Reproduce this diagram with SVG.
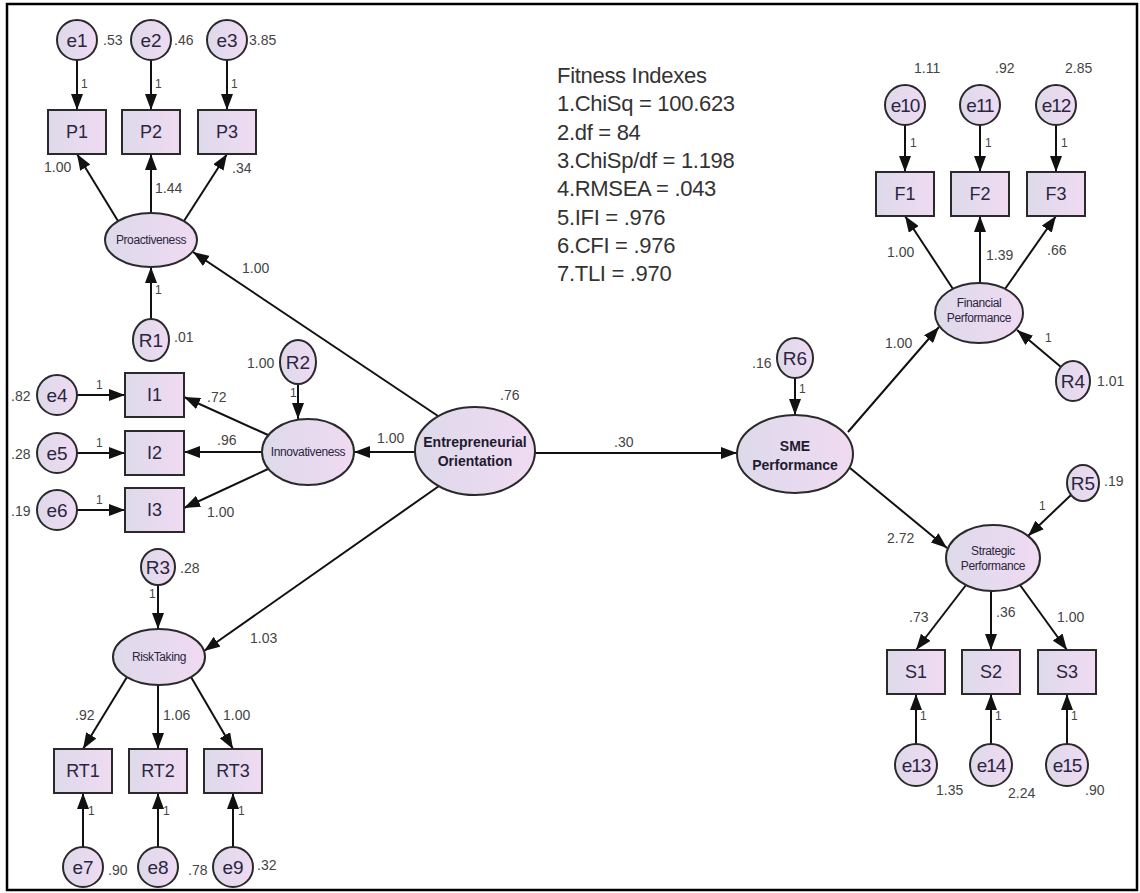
<svg xmlns="http://www.w3.org/2000/svg" width="1140" height="893" viewBox="0 0 1140 893">
<style>
.sh{fill:url(#g);stroke:#2a2a2a;stroke-width:2}
.ln{stroke:#111;stroke-width:2;fill:none;marker-end:url(#ah)}
.nt{font-family:"Liberation Sans",Arial,sans-serif;font-size:19px;fill:#2b2540;text-anchor:middle}
.bt{font-family:"Liberation Sans",Arial,sans-serif;font-size:18px;fill:#2b2540;text-anchor:middle}
.st{font-family:"Liberation Sans",Arial,sans-serif;font-size:12px;fill:#2b2540;text-anchor:middle;letter-spacing:-0.4px}
.bd{font-family:"Liberation Sans",Arial,sans-serif;font-size:14px;font-weight:bold;fill:#1e1a30;text-anchor:middle}
.lb{font-family:"Liberation Sans",Arial,sans-serif;font-size:14px;fill:#444}
.one{font-family:"Liberation Sans",Arial,sans-serif;font-size:12px;fill:#444}
.fit{font-family:"Liberation Sans",Arial,sans-serif;font-size:22px;fill:#333;letter-spacing:-0.3px}
</style>
<defs>
<linearGradient id="g" x1="0" y1="0" x2="1" y2="0">
<stop offset="0" stop-color="#dddaea"/>
<stop offset="1" stop-color="#f0daf2"/>
</linearGradient>
<marker id="ah" markerUnits="userSpaceOnUse" markerWidth="16" markerHeight="12" refX="16" refY="6" orient="auto">
<path d="M0,0 L16,6 L0,12 z" fill="#111"/>
</marker>
</defs>
<rect x="0" y="0" width="1140" height="893" fill="#fff"/>
<rect x="7" y="4" width="1130" height="886" fill="none" stroke="#000" stroke-width="2.5"/>

<g id="connectors">
<line class="ln" x1="77" y1="60" x2="77" y2="110"/>
<line class="ln" x1="151" y1="60" x2="151" y2="110"/>
<line class="ln" x1="227" y1="60" x2="227" y2="110"/>
<line class="ln" x1="118" y1="221" x2="77" y2="154"/>
<line class="ln" x1="151" y1="213" x2="151" y2="154"/>
<line class="ln" x1="184" y1="221" x2="227" y2="154"/>
<line class="ln" x1="151" y1="319" x2="151" y2="267"/>
<line class="ln" x1="438" y1="416" x2="193" y2="252"/>
<line class="ln" x1="77" y1="395" x2="125" y2="395"/>
<line class="ln" x1="77" y1="453" x2="125" y2="453"/>
<line class="ln" x1="77" y1="510" x2="125" y2="510"/>
<line class="ln" x1="268" y1="435" x2="184" y2="397"/>
<line class="ln" x1="262" y1="452" x2="184" y2="452"/>
<line class="ln" x1="268" y1="469" x2="184" y2="508"/>
<line class="ln" x1="298" y1="384" x2="298" y2="419"/>
<line class="ln" x1="415" y1="452" x2="354" y2="452"/>
<line class="ln" x1="439" y1="486" x2="204" y2="651"/>
<line class="ln" x1="158" y1="585" x2="158" y2="629"/>
<line class="ln" x1="127" y1="677" x2="83" y2="749"/>
<line class="ln" x1="158" y1="685" x2="158" y2="749"/>
<line class="ln" x1="191" y1="677" x2="233" y2="749"/>
<line class="ln" x1="83" y1="847" x2="83" y2="793"/>
<line class="ln" x1="158" y1="847" x2="158" y2="793"/>
<line class="ln" x1="233" y1="847" x2="233" y2="793"/>
<line class="ln" x1="535" y1="453" x2="737" y2="453"/>
<line class="ln" x1="795" y1="378" x2="795" y2="415"/>
<line class="ln" x1="848" y1="432" x2="939" y2="327"/>
<line class="ln" x1="850" y1="468" x2="947" y2="548"/>
<line class="ln" x1="905" y1="125" x2="905" y2="172"/>
<line class="ln" x1="980" y1="125" x2="980" y2="172"/>
<line class="ln" x1="1056" y1="125" x2="1056" y2="172"/>
<line class="ln" x1="953" y1="289" x2="905" y2="216"/>
<line class="ln" x1="980" y1="283" x2="980" y2="216"/>
<line class="ln" x1="1005" y1="289" x2="1056" y2="216"/>
<line class="ln" x1="1061" y1="367" x2="1017" y2="330"/>
<line class="ln" x1="1071" y1="495" x2="1028" y2="536"/>
<line class="ln" x1="966" y1="585" x2="916" y2="650"/>
<line class="ln" x1="991" y1="591" x2="991" y2="650"/>
<line class="ln" x1="1020" y1="585" x2="1067" y2="650"/>
<line class="ln" x1="916" y1="744" x2="916" y2="694"/>
<line class="ln" x1="991" y1="744" x2="991" y2="694"/>
<line class="ln" x1="1067" y1="744" x2="1067" y2="694"/>
</g>

<g id="labels">
<text class="lb" x="103" y="45">.53</text>
<text class="lb" x="174" y="45">.46</text>
<text class="lb" x="249" y="45">3.85</text>
<text class="one" x="81" y="88">1</text>
<text class="one" x="155" y="88">1</text>
<text class="one" x="231" y="88">1</text>
<text class="lb" x="44" y="172">1.00</text>
<text class="lb" x="155" y="193">1.44</text>
<text class="lb" x="232" y="173">.34</text>
<text class="one" x="155" y="294">1</text>
<text class="lb" x="174" y="342">.01</text>
<text class="lb" x="242" y="273">1.00</text>
<text class="lb" x="11" y="401">.82</text>
<text class="lb" x="11" y="459">.28</text>
<text class="lb" x="11" y="516">.19</text>
<text class="one" x="96" y="389">1</text>
<text class="one" x="96" y="447">1</text>
<text class="one" x="96" y="504">1</text>
<text class="lb" x="207" y="402">.72</text>
<text class="lb" x="217" y="445">.96</text>
<text class="lb" x="207" y="517">1.00</text>
<text class="lb" x="247" y="368">1.00</text>
<text class="one" x="290" y="397">1</text>
<text class="lb" x="500" y="400">.76</text>
<text class="lb" x="377" y="443">1.00</text>
<text class="lb" x="614" y="447">.30</text>
<text class="lb" x="180" y="573">.28</text>
<text class="one" x="149" y="598">1</text>
<text class="lb" x="250" y="643">1.03</text>
<text class="lb" x="75" y="720">.92</text>
<text class="lb" x="163" y="720">1.06</text>
<text class="lb" x="223" y="720">1.00</text>
<text class="one" x="88" y="815">1</text>
<text class="one" x="163" y="815">1</text>
<text class="one" x="238" y="815">1</text>
<text class="lb" x="108" y="875">.90</text>
<text class="lb" x="188" y="875">.78</text>
<text class="lb" x="257" y="870">.32</text>
<text class="lb" x="752" y="368">.16</text>
<text class="one" x="799" y="393">1</text>
<text class="lb" x="885" y="348">1.00</text>
<text class="lb" x="887" y="543">2.72</text>
<text class="lb" x="914" y="73">1.11</text>
<text class="lb" x="995" y="73">.92</text>
<text class="lb" x="1065" y="73">2.85</text>
<text class="one" x="910" y="147">1</text>
<text class="one" x="985" y="147">1</text>
<text class="one" x="1061" y="147">1</text>
<text class="lb" x="887" y="257">1.00</text>
<text class="lb" x="986" y="260">1.39</text>
<text class="lb" x="1047" y="255">.66</text>
<text class="one" x="1045" y="342">1</text>
<text class="lb" x="1097" y="386">1.01</text>
<text class="lb" x="1104" y="486">.19</text>
<text class="one" x="1039" y="510">1</text>
<text class="lb" x="909" y="622">.73</text>
<text class="lb" x="996" y="617">.36</text>
<text class="lb" x="1057" y="622">1.00</text>
<text class="one" x="920" y="720">1</text>
<text class="one" x="995" y="720">1</text>
<text class="one" x="1071" y="720">1</text>
<text class="lb" x="936" y="795">1.35</text>
<text class="lb" x="1008" y="798">2.24</text>
<text class="lb" x="1085" y="795">.90</text>
</g>

<g id="fitness">
<text class="fit" x="557" y="83">Fitness Indexes</text>
<text class="fit" x="557" y="111">1.ChiSq = 100.623</text>
<text class="fit" x="557" y="140">2.df = 84</text>
<text class="fit" x="557" y="168">3.ChiSp/df = 1.198</text>
<text class="fit" x="557" y="196">4.RMSEA = .043</text>
<text class="fit" x="557" y="225">5.IFI = .976</text>
<text class="fit" x="557" y="253">6.CFI = .976</text>
<text class="fit" x="557" y="281">7.TLI = .970</text>
</g>

<g id="e1"><circle class="sh" cx="77" cy="40" r="20"/><text class="nt" x="77" y="47">e1</text></g>
<g id="e2"><circle class="sh" cx="151" cy="40" r="20"/><text class="nt" x="151" y="47">e2</text></g>
<g id="e3"><circle class="sh" cx="227" cy="40" r="20"/><text class="nt" x="227" y="47">e3</text></g>
<g id="P1"><rect class="sh" x="48" y="110" width="58" height="44"/><text class="bt" x="77" y="138">P1</text></g>
<g id="P2"><rect class="sh" x="122" y="110" width="58" height="44"/><text class="bt" x="151" y="138">P2</text></g>
<g id="P3"><rect class="sh" x="198" y="110" width="58" height="44"/><text class="bt" x="227" y="138">P3</text></g>
<g id="Proactiveness"><ellipse class="sh" cx="151" cy="240" rx="46" ry="27"/><text class="st" x="151" y="244">Proactiveness</text></g>
<g id="R1"><ellipse class="sh" cx="151" cy="340" rx="18" ry="21"/><text class="nt" x="151" y="347">R1</text></g>

<g id="e4"><circle class="sh" cx="57" cy="395" r="20"/><text class="nt" x="57" y="402">e4</text></g>
<g id="e5"><circle class="sh" cx="57" cy="453" r="20"/><text class="nt" x="57" y="460">e5</text></g>
<g id="e6"><circle class="sh" cx="57" cy="510" r="20"/><text class="nt" x="57" y="517">e6</text></g>
<g id="I1"><rect class="sh" x="125" y="373" width="59" height="44"/><text class="bt" x="154.5" y="401">I1</text></g>
<g id="I2"><rect class="sh" x="125" y="431" width="59" height="44"/><text class="bt" x="154.5" y="459">I2</text></g>
<g id="I3"><rect class="sh" x="125" y="488" width="59" height="44"/><text class="bt" x="154.5" y="516">I3</text></g>
<g id="Innovativeness"><ellipse class="sh" cx="308" cy="452" rx="46" ry="33"/><text class="st" x="308" y="456">Innovativeness</text></g>
<g id="R2"><ellipse class="sh" cx="298" cy="362" rx="18" ry="22"/><text class="nt" x="298" y="369">R2</text></g>

<g id="EO"><ellipse class="sh" cx="475" cy="451" rx="60" ry="44"/><text class="bd" x="475" y="447">Entrepreneurial</text><text class="bd" x="475" y="466">Orientation</text></g>

<g id="R3"><ellipse class="sh" cx="158" cy="567" rx="17" ry="18"/><text class="nt" x="158" y="574">R3</text></g>
<g id="RiskTaking"><ellipse class="sh" cx="159" cy="657" rx="46" ry="28"/><text class="st" x="159" y="661">RiskTaking</text></g>
<g id="RT1"><rect class="sh" x="54" y="749" width="58" height="44"/><text class="bt" x="83" y="777">RT1</text></g>
<g id="RT2"><rect class="sh" x="129" y="749" width="58" height="44"/><text class="bt" x="158" y="777">RT2</text></g>
<g id="RT3"><rect class="sh" x="204" y="749" width="58" height="44"/><text class="bt" x="233" y="777">RT3</text></g>
<g id="e7"><circle class="sh" cx="83" cy="867" r="20"/><text class="nt" x="83" y="874">e7</text></g>
<g id="e8"><circle class="sh" cx="158" cy="867" r="20"/><text class="nt" x="158" y="874">e8</text></g>
<g id="e9"><circle class="sh" cx="233" cy="867" r="20"/><text class="nt" x="233" y="874">e9</text></g>

<g id="SME"><ellipse class="sh" cx="795" cy="454" rx="58" ry="39"/><text class="bd" x="795" y="451">SME</text><text class="bd" x="795" y="470">Performance</text></g>
<g id="R6"><ellipse class="sh" cx="795" cy="358" rx="18" ry="20"/><text class="nt" x="795" y="365">R6</text></g>

<g id="e10"><circle class="sh" cx="905" cy="105" r="20"/><text class="nt" x="905" y="112" letter-spacing="-1">e10</text></g>
<g id="e11"><circle class="sh" cx="980" cy="105" r="20"/><text class="nt" x="980" y="112" letter-spacing="-1">e11</text></g>
<g id="e12"><circle class="sh" cx="1056" cy="105" r="20"/><text class="nt" x="1056" y="112" letter-spacing="-1">e12</text></g>
<g id="F1"><rect class="sh" x="876" y="172" width="58" height="44"/><text class="bt" x="905" y="200">F1</text></g>
<g id="F2"><rect class="sh" x="951" y="172" width="58" height="44"/><text class="bt" x="980" y="200">F2</text></g>
<g id="F3"><rect class="sh" x="1027" y="172" width="58" height="44"/><text class="bt" x="1056" y="200">F3</text></g>
<g id="Financial"><ellipse class="sh" cx="979" cy="313" rx="44" ry="30"/><text class="st" x="979" y="307">Financial</text><text class="st" x="979" y="322">Performance</text></g>
<g id="R4"><ellipse class="sh" cx="1073" cy="381" rx="17" ry="20"/><text class="nt" x="1073" y="388">R4</text></g>

<g id="R5"><ellipse class="sh" cx="1083" cy="483" rx="16" ry="18"/><text class="nt" x="1083" y="490">R5</text></g>
<g id="Strategic"><ellipse class="sh" cx="993" cy="558" rx="47" ry="33"/><text class="st" x="993" y="555">Strategic</text><text class="st" x="993" y="570">Performance</text></g>
<g id="S1"><rect class="sh" x="887" y="650" width="58" height="44"/><text class="bt" x="916" y="678">S1</text></g>
<g id="S2"><rect class="sh" x="962" y="650" width="58" height="44"/><text class="bt" x="991" y="678">S2</text></g>
<g id="S3"><rect class="sh" x="1038" y="650" width="58" height="44"/><text class="bt" x="1067" y="678">S3</text></g>
<g id="e13"><circle class="sh" cx="916" cy="765" r="21"/><text class="nt" x="916" y="772" letter-spacing="-1">e13</text></g>
<g id="e14"><circle class="sh" cx="991" cy="765" r="21"/><text class="nt" x="991" y="772" letter-spacing="-1">e14</text></g>
<g id="e15"><circle class="sh" cx="1067" cy="765" r="21"/><text class="nt" x="1067" y="772" letter-spacing="-1">e15</text></g>
</svg>
